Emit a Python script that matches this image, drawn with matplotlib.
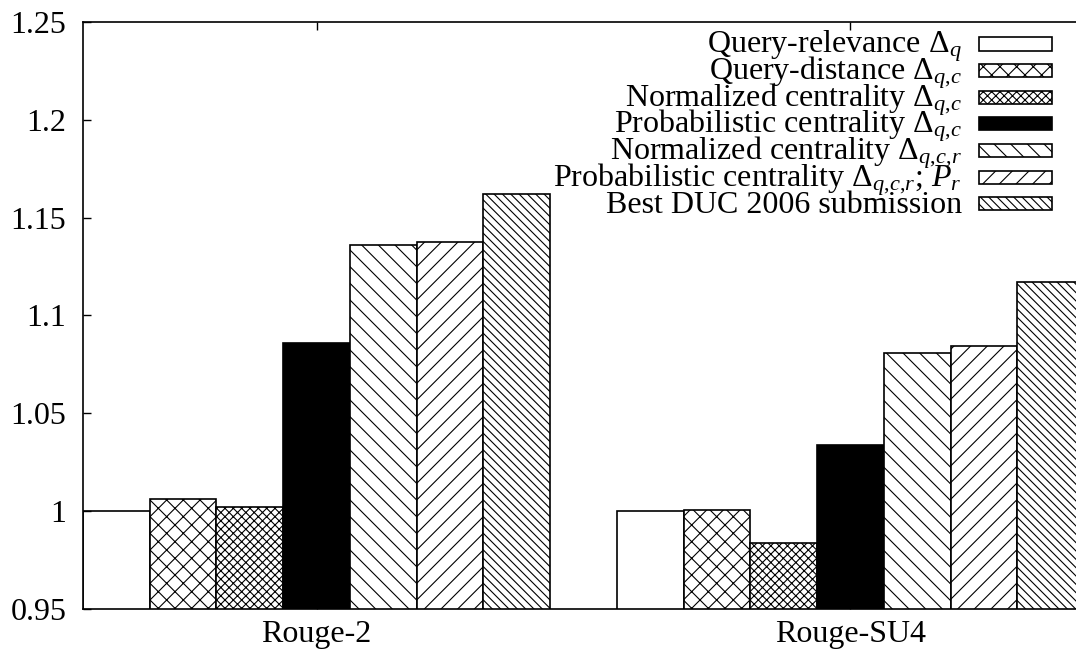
import matplotlib
matplotlib.use("Agg")
import matplotlib.pyplot as plt
from matplotlib.patches import Rectangle

plt.rcParams['font.family'] = ['Liberation Serif', 'DejaVu Serif']
plt.rcParams['mathtext.fontset'] = 'custom'
plt.rcParams['mathtext.rm'] = 'Liberation Serif'
plt.rcParams['mathtext.it'] = 'Liberation Serif:italic'
plt.rcParams['hatch.linewidth'] = 0.8

groups = ["Rouge-2", "Rouge-SU4"]
labels = [
    "Query-relevance $\\Delta_q$",
    "Query-distance $\\Delta_{q{,}c}$",
    "Normalized centrality $\\Delta_{q{,}c}$",
    "Probabilistic centrality $\\Delta_{q{,}c}$",
    "Normalized centrality $\\Delta_{q{,}c{,}r}$",
    "Probabilistic centrality $\\Delta_{q{,}c{,}r}$; $P_r$",
    "Best DUC 2006 submission",
]
rouge2 = [1.000, 1.006, 1.002, 1.086, 1.136, 1.1375, 1.162]
rougesu4 = [1.000, 1.0005, 0.9835, 1.034, 1.081, 1.0845, 1.117]
yticks = [0.95, 1.0, 1.05, 1.1, 1.15, 1.2, 1.25]

hatches = ["", "xx", "xxxx", "", "\\\\", "//", "\\\\\\\\"]
faces = ["white", "white", "white", "black", "white", "white", "white"]

fig = plt.figure(figsize=(10.76, 6.52), dpi=100)
ax = fig.add_axes([83 / 1076, 43 / 652, 1001 / 1076, 587 / 652])

width = 0.125
values = list(zip(rouge2, rougesu4))
for i, lab in enumerate(labels):
    xs = [g + (i - 3) * width for g in range(len(groups))]
    ax.bar(xs, values[i], width=width, bottom=0, color=faces[i],
           edgecolor="black", hatch=hatches[i], linewidth=1.2, label=lab)

ax.set_xlim(-0.4375, 1.4375)
ax.set_ylim(0.95, 1.25)
ax.set_yticks(yticks)
ax.set_yticklabels(["%g" % t for t in yticks])
ax.set_xticks(range(len(groups)))
ax.set_xticklabels(groups)
ax.tick_params(direction="in", length=6, width=1, top=True, right=True,
               labelsize=23)
ax.tick_params(axis="y", pad=12)
ax.tick_params(axis="x", pad=8)
for s in ax.spines.values():
    s.set_linewidth(1.2)

# gnuplot-style key, drawn by hand so the rows sit tight
y0 = (609 - 53) / 587
dy = 26.6 / 587
for i, lab in enumerate(labels):
    yb = y0 - i * dy
    ax.text(0.878, yb, lab, transform=ax.transAxes, ha="right",
            va="baseline", fontsize=23)
    ax.add_patch(Rectangle((0.895, yb + 2.5 / 587), 0.073, 13 / 587,
                           transform=ax.transAxes, facecolor=faces[i],
                           edgecolor="black", hatch=hatches[i],
                           linewidth=1.2, clip_on=False))

fig.savefig("out.png", dpi=100)
